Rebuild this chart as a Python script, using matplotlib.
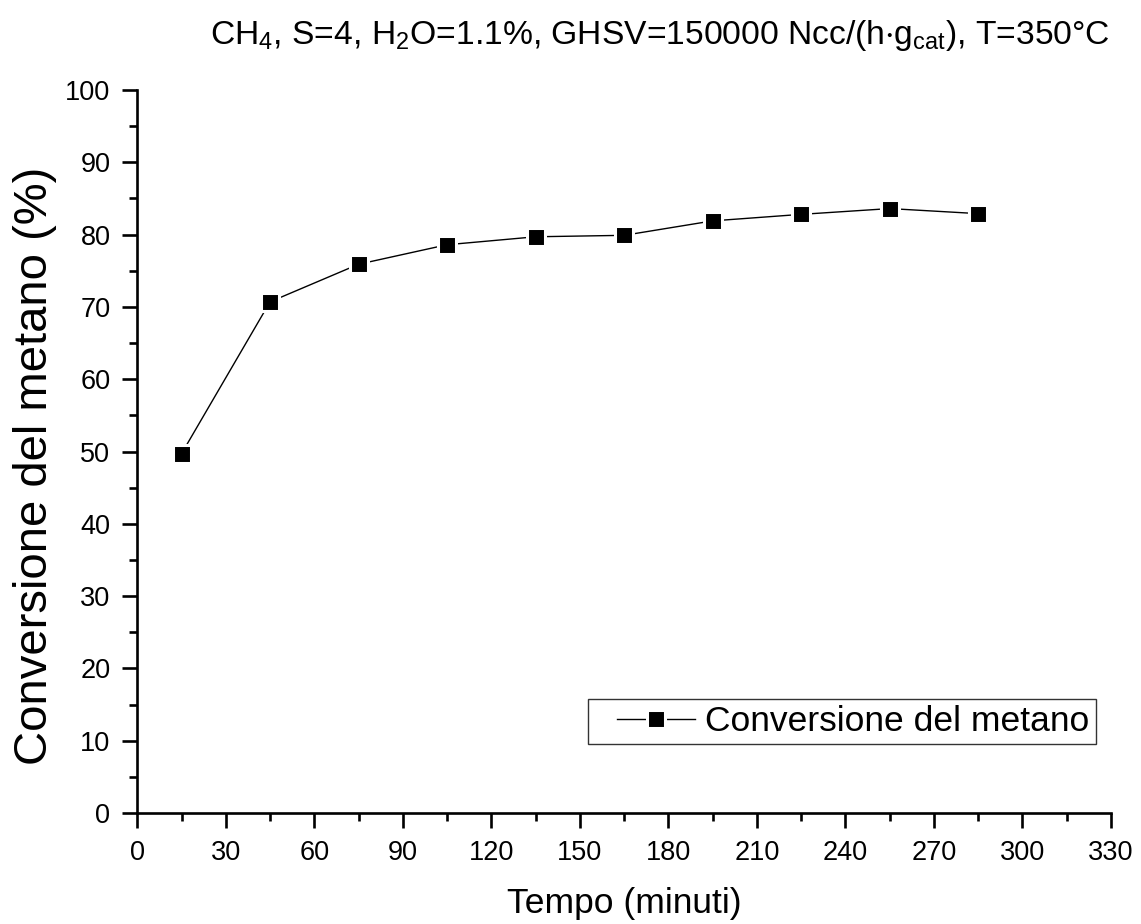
import numpy as np
import matplotlib
matplotlib.use("Agg")
from matplotlib import pyplot as plt
from matplotlib.ticker import MultipleLocator
from matplotlib.legend_handler import HandlerLine2D

plt.rcParams["font.family"] = ["Liberation Sans", "DejaVu Sans"]
plt.rcParams["mathtext.default"] = "regular"

tempo = [15, 45, 75, 105, 135, 165, 195, 225, 255, 285]
conversione = [49.7, 70.7, 75.9, 78.6, 79.7, 79.9, 81.9, 82.8, 83.6, 82.9]

fig = plt.figure(figsize=(11.41, 9.24), dpi=100)
ax = fig.add_axes([0.1203, 0.1201, 0.8534, 0.7825])

# white marker edge gives the small gaps between line and squares
line, = ax.plot(tempo, conversione, color="black", lw=1, marker="s", ms=13.5,
                mfc="black", mec="white", mew=2.2,
                label="Conversione del metano")

ax.set_xlim(0, 330)
ax.set_ylim(0, 100)
ax.xaxis.set_major_locator(MultipleLocator(30))
ax.xaxis.set_minor_locator(MultipleLocator(15))
ax.yaxis.set_major_locator(MultipleLocator(10))
ax.yaxis.set_minor_locator(MultipleLocator(5))

for s in ["top", "right"]:
    ax.spines[s].set_visible(False)
for s in ["left", "bottom"]:
    ax.spines[s].set_linewidth(1.9)

ax.tick_params(which="major", direction="out", length=10.8, width=1.9,
               labelsize=19.5, pad=8.5)
ax.tick_params(which="minor", direction="out", length=5.8, width=1.9)

ax.set_xlabel("Tempo (minuti)", fontsize=25.5, va="baseline")
ax.xaxis.set_label_coords(0.5, -0.1383)
ax.set_ylabel("Conversione del metano (%)", fontsize=34, va="center")
ax.yaxis.set_label_coords(-0.105, 0.48)

fig.text(0.9729, 0.9524,
         r"CH$_4$, S=4, H$_2$O=1.1%, GHSV=150000 Ncc/(h$\cdot$g$_{cat}$), T=350°C",
         ha="right", va="baseline", fontsize=24.2)

leg = ax.legend(loc="upper left", bbox_to_anchor=(0.4627, 0.1573), fontsize=25.5,
                frameon=True, fancybox=False, edgecolor="black",
                handlelength=2.87, handletextpad=0.28, borderpad=0.17,
                borderaxespad=0,
                handler_map={line: HandlerLine2D(xpad=0.66)})
leg.get_frame().set_linewidth(1)

fig.savefig("out.png", dpi=100)
